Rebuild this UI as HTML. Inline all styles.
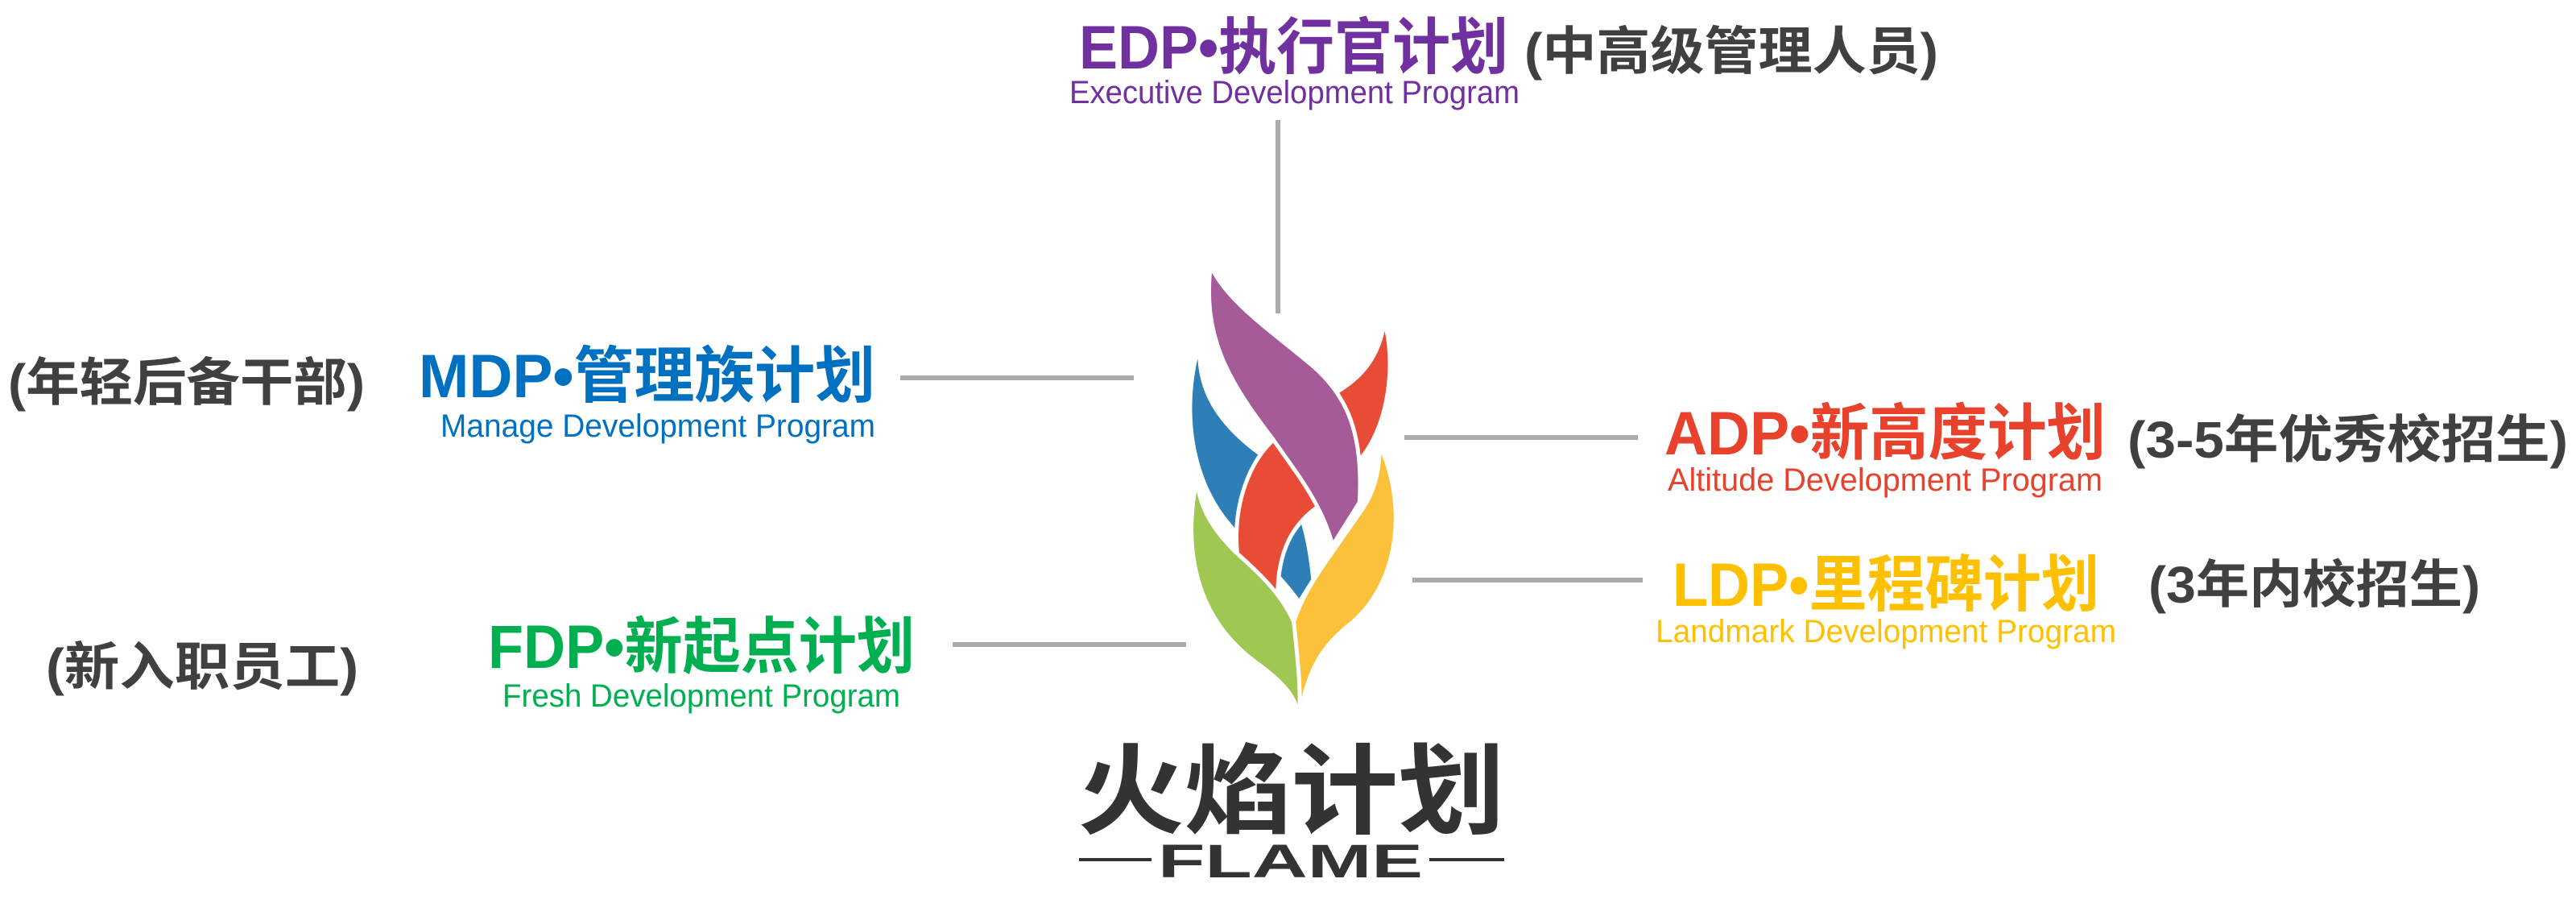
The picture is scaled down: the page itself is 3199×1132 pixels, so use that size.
<!DOCTYPE html>
<html><head><meta charset="utf-8"><style>
html,body{margin:0;padding:0;background:#fff;width:3199px;height:1132px;overflow:hidden}
svg{display:block}
.t{font-family:"Liberation Sans","Noto Sans CJK SC",sans-serif;font-weight:bold}
.s{font-family:"Liberation Sans","Noto Sans CJK SC",sans-serif}
</style></head><body>
<svg width="3199" height="1132" viewBox="0 0 3199 1132" xmlns="http://www.w3.org/2000/svg">
<g stroke="#ababab" stroke-width="6">
<line x1="1587" y1="149" x2="1587" y2="389"/>
<line x1="1118" y1="469" x2="1408" y2="469"/>
<line x1="1744" y1="543" x2="2034" y2="543"/>
<line x1="1754" y1="720" x2="2040" y2="720"/>
<line x1="1183" y1="800" x2="1473" y2="800"/>
</g>
<g transform="translate(1380,295) scale(0.3333,0.53)">
<path fill="#2e7fb7" d="M322,283 C330,380 420,450 550,510 C650,560 720,640 745,800 L700,845 C600,760 470,700 400,630 C300,530 280,400 322,283 Z"/>
<path fill="#e84c37" stroke="#fff" stroke-width="5" vector-effect="non-scaling-stroke" d="M1018,195 C1060,290 1040,440 920,525 L770,630 C680,670 620,730 620,840 L470,745 C450,620 520,520 610,470 L830,365 C930,330 1000,280 1018,195 Z"/>
<path fill="#a55b98" stroke="#fff" stroke-width="5" vector-effect="non-scaling-stroke" d="M370,65 C430,150 600,220 750,300 C880,370 940,460 925,620 L825,720 C780,620 700,560 600,470 C430,330 340,230 370,65 Z"/>
<path fill="#a1c753" stroke="#fff" stroke-width="5" vector-effect="non-scaling-stroke" d="M322,560 C270,700 290,880 540,995 C640,1040 700,1080 700,1135 C730,1050 720,960 680,900 C640,840 560,790 470,740 C370,680 320,620 322,560 Z"/>
<path fill="#fbc13a" stroke="#fff" stroke-width="5" vector-effect="non-scaling-stroke" d="M1000,485 C1100,620 1080,800 900,900 C800,950 730,1000 700,1135 C710,1060 690,960 680,900 C720,820 800,760 920,650 C980,600 1000,550 1000,485 Z"/>
</g>
<text class="t" x="1338" y="1025" font-size="122" fill="#333" textLength="531" lengthAdjust="spacingAndGlyphs">火焰计划</text>
<line x1="1340" y1="1067" x2="1430" y2="1067" stroke="#333" stroke-width="4"/>
<line x1="1775" y1="1067" x2="1868" y2="1067" stroke="#333" stroke-width="4"/>
<text class="t" x="1438" y="1089" font-size="58" fill="#333" textLength="329" lengthAdjust="spacingAndGlyphs">FLAME</text>

<text class="t" x="1340" y="85" font-size="76" fill="#7030a0" textLength="533" lengthAdjust="spacingAndGlyphs">EDP•执行官计划</text>
<text class="t" x="1893" y="86" font-size="64" fill="#404040" textLength="514" lengthAdjust="spacingAndGlyphs">(中高级管理人员)</text>
<text class="s" x="1328" y="128" font-size="40" fill="#7030a0" textLength="559" lengthAdjust="spacingAndGlyphs">Executive Development Program</text>

<text class="t" x="520" y="493" font-size="76" fill="#0070c0" textLength="567" lengthAdjust="spacingAndGlyphs">MDP•管理族计划</text>
<text class="s" x="547" y="542" font-size="40" fill="#0070c0" textLength="540" lengthAdjust="spacingAndGlyphs">Manage Development Program</text>
<text class="t" x="10" y="497" font-size="64" fill="#404040" textLength="443" lengthAdjust="spacingAndGlyphs">(年轻后备干部)</text>

<text class="t" x="2067" y="564" font-size="76" fill="#e8412c" textLength="548" lengthAdjust="spacingAndGlyphs">ADP•新高度计划</text>
<text class="s" x="2071" y="609" font-size="40" fill="#e8412c" textLength="540" lengthAdjust="spacingAndGlyphs">Altitude Development Program</text>
<text class="t" x="2642" y="568" font-size="64" fill="#404040" textLength="547" lengthAdjust="spacingAndGlyphs">(3-5年优秀校招生)</text>

<text class="t" x="2077" y="752" font-size="76" fill="#ffc000" textLength="530" lengthAdjust="spacingAndGlyphs">LDP•里程碑计划</text>
<text class="s" x="2056" y="797" font-size="40" fill="#ffc000" textLength="572" lengthAdjust="spacingAndGlyphs">Landmark Development Program</text>
<text class="t" x="2668" y="748" font-size="64" fill="#404040" textLength="412" lengthAdjust="spacingAndGlyphs">(3年内校招生)</text>

<text class="t" x="606" y="829" font-size="76" fill="#00b050" textLength="530" lengthAdjust="spacingAndGlyphs">FDP•新起点计划</text>
<text class="s" x="624" y="877" font-size="40" fill="#00b050" textLength="494" lengthAdjust="spacingAndGlyphs">Fresh Development Program</text>
<text class="t" x="57" y="850" font-size="64" fill="#404040" textLength="388" lengthAdjust="spacingAndGlyphs">(新入职员工)</text>
</svg>
</body></html>
